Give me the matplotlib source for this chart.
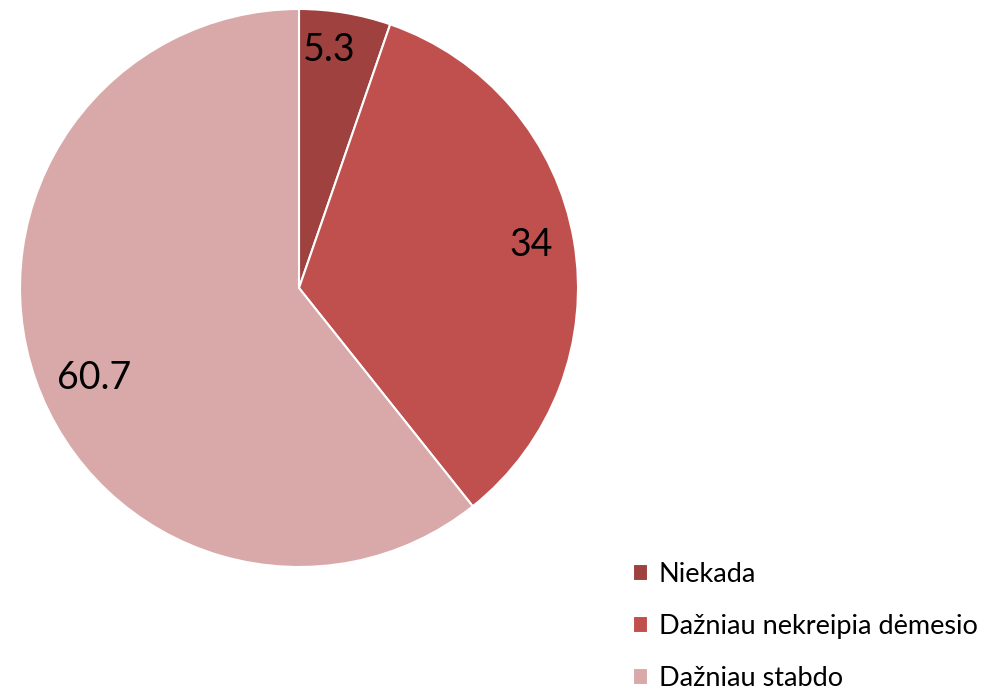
import matplotlib.pyplot as plt
import numpy as np

# data
categories = ["Niekada", "Dažniau nekreipia dėmesio", "Dažniau stabdo"]
values = [5.3, 34, 60.7]
value_labels = ["5.3", "34", "60.7"]
colors = ["#9E413F", "#C0504D", "#D9A9A9"]

plt.rcParams['font.family'] = ['Lato', 'DejaVu Sans']

fig = plt.figure(figsize=(9.84, 6.89), dpi=100)
ax = fig.add_axes([20/984, 1-567/689, 558/984, 558/689])

wedges, _ = ax.pie(values, colors=colors, startangle=90, counterclock=False,
                   wedgeprops=dict(edgecolor="white", linewidth=1.5))
ax.set_xlim(-1, 1)
ax.set_ylim(-1, 1)
ax.set_aspect("equal")

# value labels inside the slices (distance from centre, angle nudge)
dist = [0.86, 0.845, 0.80]
nudge = [2.3, 0.8, 4.4]
for w, lab, d, n in zip(wedges, value_labels, dist, nudge):
    ang = np.deg2rad((w.theta1 + w.theta2) / 2 + n)
    ax.text(d*np.cos(ang), d*np.sin(ang), lab, ha="center", va="center",
            fontsize=27, color="black")

leg = fig.legend(wedges, categories, loc="upper left",
                 bbox_to_anchor=(633/984, 1-562/689), frameon=False,
                 fontsize=19.5, handlelength=0.55, handleheight=0.55,
                 handletextpad=0.4, labelspacing=1.0,
                 borderpad=0, borderaxespad=0)

plt.savefig("out.png", dpi=100)
